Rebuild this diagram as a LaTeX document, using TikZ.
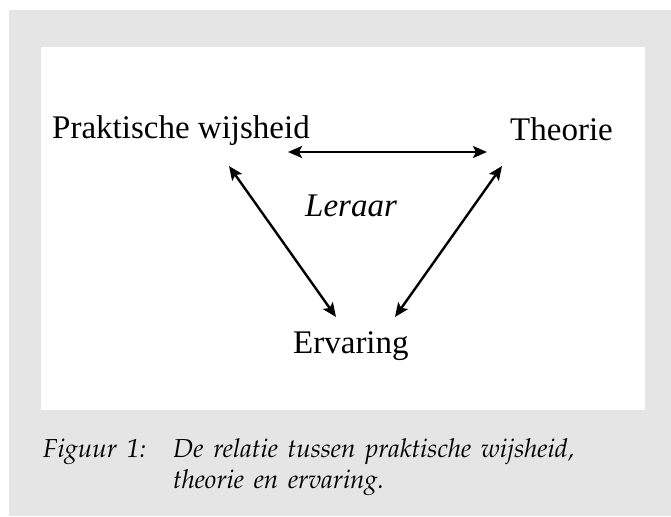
\documentclass[tikz,border=0pt]{standalone}
\usepackage[T1]{fontenc}
\usepackage{fontspec}
\setmainfont{Liberation Serif}
\usetikzlibrary{arrows.meta}
\definecolor{panelgray}{RGB}{229,229,229}
\newcommand{\capfont}{\fontencoding{T1}\fontfamily{ppl}\fontshape{it}\fontsize{26}{31}\selectfont\spaceskip=9.8pt\relax}
\begin{document}
\begin{tikzpicture}[x=1pt,y=-1pt,
  lbl/.style={inner sep=0pt, anchor=base west, font=\fontsize{33}{38}\selectfont},
  captext/.style={inner sep=0pt, anchor=base west, font=\capfont},
  link/.style={line width=2.4pt, {Stealth[length=14pt,width=12pt,inset=3pt]}-{Stealth[length=14pt,width=12pt,inset=3pt]}}]
\useasboundingbox (0,0) rectangle (671,516);
\fill[white] (0,0) rectangle (671,516);
\fill[panelgray] (9,10) rectangle (671,516);
\fill[white] (41,47) rectangle (645,410);
\node[lbl] (pw) at (52,139) {Praktische wijsheid};
\node[lbl] (th) at (510,140) {Theorie};
\node[lbl, font=\fontsize{33}{38}\selectfont\itshape] (le) at (305,216) {Leraar};
\node[lbl] (er) at (293,353) {Ervaring};
\coordinate (pwr) at (288,152);
\coordinate (thl) at (487,152);
\coordinate (pwb) at (229,166);
\coordinate (erl) at (336,317);
\coordinate (thb) at (502,166);
\coordinate (err) at (395,317);
\draw[link] (pwr) -- (thl);
\draw[link] (pwb) -- (erl);
\draw[link] (thb) -- (err);
\node[captext] (fig) at (43,457) {Figuur 1:};
\node[captext] (c1) at (173,457) {De relatie tussen praktische wijsheid,};
\node[captext] (c2) at (173,488) {theorie en ervaring.};
\end{tikzpicture}
\end{document}
